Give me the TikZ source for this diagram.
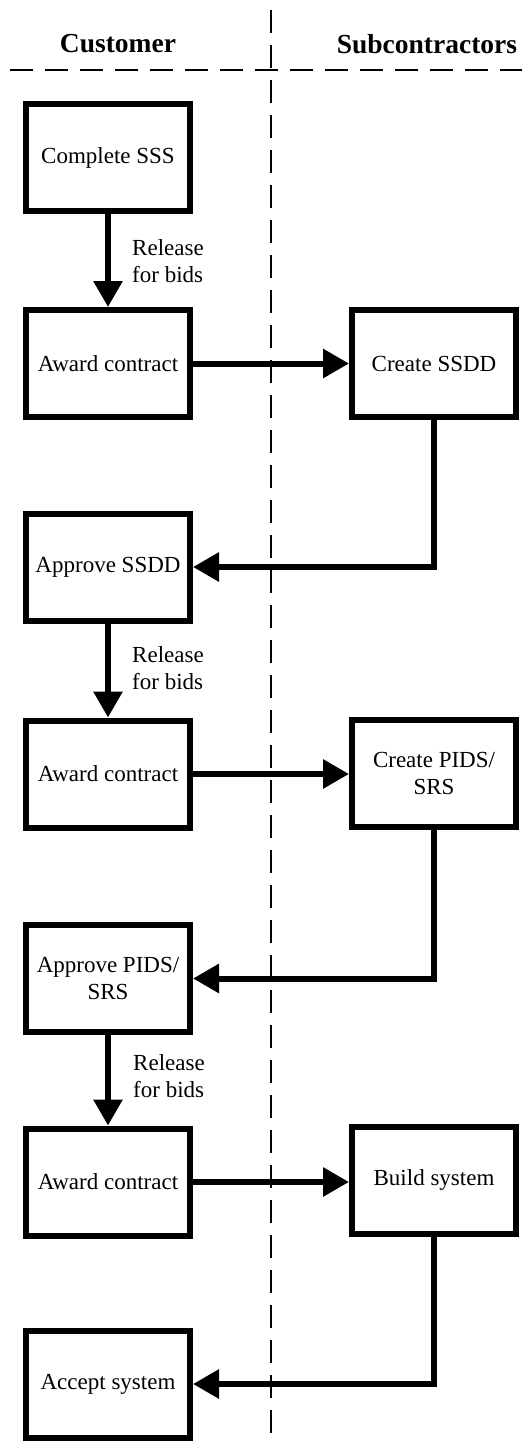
\documentclass[tikz,border=0pt]{standalone}
\usepackage{fontspec}
\setmainfont{Liberation Serif}
\usetikzlibrary{arrows.meta}
\begin{document}
\begin{tikzpicture}[x=1pt,y=-1pt,
  box/.style={draw,line width=6pt,minimum width=164pt,minimum height=107pt,inner sep=0pt,align=center,font=\fontsize{23}{27}\selectfont},
  flow/.style={line width=6pt,-{Triangle[length=26pt,width=28pt]}},
  lbl/.style={anchor=west,align=left,font=\fontsize{23}{27}\selectfont,inner sep=0pt},
  hdr/.style={font=\fontsize{27.5}{32}\selectfont\bfseries,inner sep=0pt},
  lane/.style={line width=2.2pt,dash pattern=on 23pt off 12pt}]
\useasboundingbox (0,0) rectangle (529,1442);
% lanes
\coordinate (vt) at (271,10);
\coordinate (vb) at (271,1442);
\coordinate (hl) at (10,70);
\coordinate (hr) at (522,70);
\draw[lane] (vt) -- (vb);
\draw[lane,line width=2.6pt] (hl) -- (hr);
\node[hdr] (hc) at (118,44) {Customer};
\node[hdr] (hs) at (427,44) {Subcontractors};
% boxes
\node[box] (b1) at (108,157.5) {Complete SSS};
\node[box] (b2) at (108,363.5) {Award contract};
\node[box] (b3) at (434,363.5) {Create SSDD};
\node[box] (b4) at (108,567) {Approve SSDD};
\node[box] (b5) at (108,774) {Award contract};
\node[box] (b6) at (434,773.5) {Create PIDS/\\SRS};
\node[box] (b7) at (108,978.5) {Approve PIDS/\\SRS};
\node[box] (b8) at (108,1182) {Award contract};
\node[box] (b9) at (434,1180) {Build system};
\node[box] (b10) at (108,1384) {Accept system};
% labels
\node[lbl] (l1) at (132,261.5) {Release\\for bids};
\node[lbl] (l2) at (132,668.5) {Release\\for bids};
\node[lbl] (l3) at (133,1076.5) {Release\\for bids};
% connectors
\draw[flow] (b1.south) -- (b2.north);
\draw[flow] (b2.east) -- (b3.west);
\draw[flow] (b3.south) |- (b4.east);
\draw[flow] (b4.south) -- (b5.north);
\draw[flow] (b5.east) -- (b5.east -| b6.west);
\draw[flow] (b6.south) |- (b7.east);
\draw[flow] (b7.south) -- (b8.north);
\draw[flow] (b8.east) -- (b8.east -| b9.west);
\draw[flow] (b9.south) |- (b10.east);
\end{tikzpicture}
\end{document}
